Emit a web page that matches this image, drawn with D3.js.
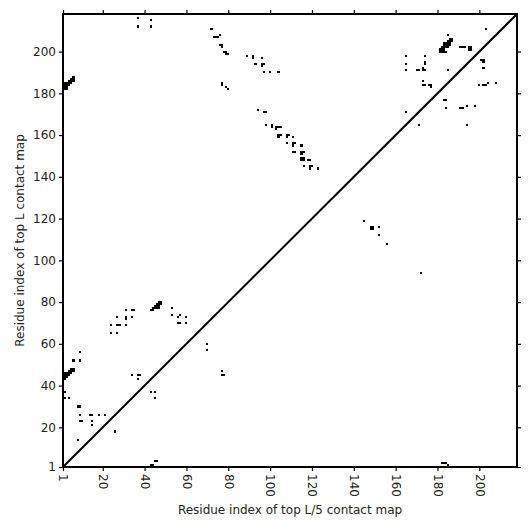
<!DOCTYPE html>
<html>
<head>
<meta charset="utf-8">
<script src="https://cdn.jsdelivr.net/npm/d3@7"></script>
<style>
  body { margin: 0; background: #fff; }
  text { font-family: "DejaVu Sans", sans-serif; }
</style>
</head>
<body>
<svg id="svg" width="531" height="531"></svg>
<script>
// sequence length
const L = 218;
const ticks = [1, 20, 40, 60, 80, 100, 120, 140, 160, 180, 200];

// top L contacts, [i, j] with i < j -> drawn above the diagonal
const topL = [
  // N-term / 43-48
  [1,43],[1,44],[1,45],[2,43],[2,44],[2,45],[2,46],[3,44],[3,45],[3,46],[4,45],[4,46],[4,47],
  [5,46],[5,47],[5,48],[6,47],[6,48],
  // N-term / 181-188
  [1,181],[1,182],[1,183],[1,184],[2,182],[2,183],[2,184],[2,185],[3,182],[3,183],[3,184],[3,185],
  [4,184],[4,185],[4,186],[5,185],[5,186],[5,187],[6,186],[6,187],[6,188],
  [2,37],[2,34],[4,34],[6,52],[9,56],[9,52],
  [8,30],[9,30],[9,26],[9,23],[10,23],[8,14],
  [14,26],[15,26],[15,23],[15,21],[18,26],[21,26],
  [24,65],[27,65],[24,69],[27,69],[28,69],[31,69],
  [27,73],[31,73],[31,72],[34,73],[31,76],[34,76],[35,76],
  [34,45],[37,45],[38,45],[37,43],
  [37,216],[37,212],[43,215],[43,212],
  // 43-48 / 76-80
  [43,76],[44,76],[44,77],[45,77],[45,78],[46,77],[46,78],[46,79],[47,77],[47,78],[47,79],[47,80],
  [48,79],[48,80],
  [53,77],[53,74],[56,73],[57,74],[60,73],[56,70],[57,70],[60,70],
  [72,211],[73,207],[74,207],[75,207],[76,208],
  [76,203],[77,203],[77,202],[78,200],[79,200],[79,199],[80,199],
  [77,185],[77,184],[79,183],[80,182],
  [89,198],[92,198],[92,197],[96,197],
  [93,194],[96,194],[97,194],[96,193],
  [97,190],[100,190],[104,190],
  [94,172],[97,171],[98,171],
  [98,165],[101,165],[101,164],[103,164],[104,164],[105,164],[103,163],
  [104,160],[105,160],[104,159],[108,160],[109,160],[108,159],[111,159],
  [108,156],[111,156],[112,156],[111,155],[115,155],
  [111,152],[112,152],[115,152],[116,152],[115,151],
  [115,149],[116,149],[115,148],[116,148],[118,148],[119,148],
  [116,145],[119,145],[120,145],[119,144],[123,144],
  [165,171],[165,191],[165,194],[165,198],
  [170,191],[171,191],[173,191],[173,192],[174,191],[185,191],
  [174,194],[174,195],[174,198],
  [173,186],[173,184],[174,184],[176,184],[177,184],[177,183],
  // 181-187 / 199-206
  [181,200],[181,201],[182,200],[182,201],[182,202],[183,200],[183,201],[183,202],[183,203],
  [183,204],[184,200],[184,202],[184,203],[184,204],[185,202],[185,203],[185,204],[185,205],
  [186,203],[186,204],[186,205],[186,206],[187,205],[187,206],
  [185,208],[203,211],
  [191,202],[192,202],[193,202],[195,202],[196,202],[195,201],[196,201]
];

// top L/5 contacts, [i, j] with i < j -> drawn mirrored below the diagonal
const topL5 = [
  [1,43],[1,44],[2,43],[2,44],[4,45],[4,46],
  [3,182],[3,183],[3,184],[2,185],
  [18,26],[34,45],[37,43],[37,45],
  [45,77],[45,78],[47,77],[57,70],[60,70],
  [94,172],[108,156],[112,152],[116,152],
  [115,148],[115,149],[116,148],[116,149],[119,145],
  [165,171],[165,194],[173,184],[173,191],[173,192],[174,194],[174,198],
  [177,183],[177,184],[184,200],[184,202],[184,203],[185,204],[185,208],
  [192,202],[195,202],[196,201],[196,202]
];

const svg = d3.select("#svg");
const mLeft = 63, mRight = 517, mTop = 14, mBottom = 467;

const x = d3.scaleLinear().domain([1, L]).range([mLeft, mRight]);
const y = d3.scaleLinear().domain([1, L]).range([mBottom, mTop]);
const cw = x(2) - x(1);

const plot = svg.append("g").attr("shape-rendering", "crispEdges");

// upper-left: top L
plot.selectAll("rect.l").data(topL).enter().append("rect")
  .attr("class", "l")
  .attr("x", d => x(d[0]) - cw / 2)
  .attr("y", d => y(d[1]) - cw / 2)
  .attr("width", cw).attr("height", cw)
  .attr("fill", "#000");

// lower-right: top L/5 (mirrored)
plot.selectAll("rect.l5").data(topL5).enter().append("rect")
  .attr("class", "l5")
  .attr("x", d => x(d[1]) - cw / 2)
  .attr("y", d => y(d[0]) - cw / 2)
  .attr("width", cw).attr("height", cw)
  .attr("fill", "#000");

// diagonal
svg.append("line")
  .attr("x1", x(1)).attr("y1", y(1))
  .attr("x2", x(L)).attr("y2", y(L))
  .attr("stroke", "#000").attr("stroke-width", 2);

// axes
const xb = svg.append("g").attr("transform", `translate(0,${mBottom})`)
  .call(d3.axisBottom(x).tickValues(ticks).tickSize(4).tickPadding(4));
xb.selectAll("text")
  .attr("transform", "rotate(90)")
  .attr("x", 7).attr("y", 0).attr("dy", "0.35em")
  .style("text-anchor", "start");

svg.append("g").attr("transform", `translate(${mLeft},0)`)
  .call(d3.axisLeft(y).tickValues(ticks).tickSize(4).tickPadding(3));

svg.append("g").attr("transform", `translate(0,${mTop})`)
  .call(d3.axisTop(x).tickValues(ticks).tickSize(4).tickFormat(""));
svg.append("g").attr("transform", `translate(${mRight},0)`)
  .call(d3.axisRight(y).tickValues(ticks).tickSize(4).tickFormat(""));

svg.selectAll(".domain").remove();
svg.selectAll(".tick line").attr("stroke", "#000").attr("stroke-width", 1.2);
svg.selectAll(".tick text")
  .style("font-family", "DejaVu Sans")
  .style("font-size", "12px")
  .attr("fill", "#222");

// frame
svg.append("rect")
  .attr("x", mLeft).attr("y", mTop)
  .attr("width", mRight - mLeft).attr("height", mBottom - mTop)
  .attr("fill", "none").attr("stroke", "#000").attr("stroke-width", 2);

// labels
svg.append("text")
  .attr("x", (mLeft + mRight) / 2).attr("y", 514)
  .attr("text-anchor", "middle")
  .style("font-size", "12px").attr("fill", "#222")
  .text("Residue index of top L/5 contact map");

svg.append("text")
  .attr("transform", `translate(24,${(mTop + mBottom) / 2}) rotate(-90)`)
  .attr("text-anchor", "middle")
  .style("font-size", "12px").attr("fill", "#222")
  .text("Residue index of top L contact map");
</script>
</body>
</html>
